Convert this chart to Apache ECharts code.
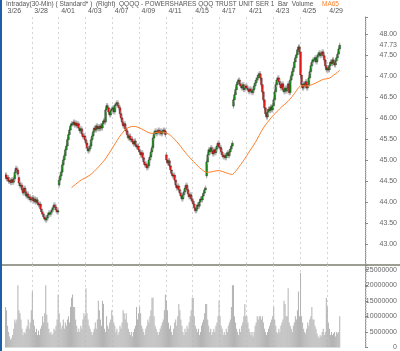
<!DOCTYPE html>
<html>
<head>
<meta charset="utf-8">
<script src="https://cdn.jsdelivr.net/npm/echarts@6/dist/echarts.min.js"></script>
<style>
  html, body { margin: 0; padding: 0; background: #fff; }
  #chart { width: 400px; height: 351px; }
</style>
</head>
<body>
<div id="chart"></div>
<script>
// trading days shown, 13 thirty-minute bars each
const days = ['3/26', '3/27', '3/28', '3/31', '4/01', '4/02', '4/03', '4/04', '4/07', '4/08', '4/09', '4/10', '4/11',
  '4/14', '4/15', '4/16', '4/17', '4/18', '4/21', '4/22', '4/23', '4/24', '4/25', '4/28', '4/29']

// opening price of the first bar of each day
const dayOpens = [44.60, 44.58, 44.08, 43.62, 44.40, 45.86, 45.48, 45.79, 46.21, 45.74, 45.24, 45.29, 45.12,
  44.29, 44.02, 44.62, 45.31, 46.28, 46.76, 47.05, 46.29, 46.64, 47.57, 47.38, 47.14]

// bar closes, one row per day
const closes = [
  44.64, 44.55, 44.58, 44.49, 44.51, 44.46, 44.53, 44.47, 44.55, 44.70, 44.80, 44.76, 44.66,
  44.45, 44.38, 44.40, 44.29, 44.21, 44.33, 44.24, 44.14, 44.19, 44.10, 44.12, 44.05, 44.07,
  44.10, 44.02, 44.07, 44.00, 44.05, 43.98, 43.93, 43.95, 43.83, 43.76, 43.71, 43.64, 43.60,
  43.57, 43.62, 43.69, 43.74, 43.71, 43.76, 43.81, 43.86, 43.93, 43.88, 43.81, 43.76, 43.79,
  44.52, 44.62, 44.71, 44.88, 45.00, 45.10, 45.24, 45.33, 45.48, 45.60, 45.71, 45.81, 45.86,
  45.86, 45.90, 45.83, 45.88, 45.81, 45.86, 45.76, 45.69, 45.74, 45.62, 45.55, 45.57, 45.48,
  45.40, 45.29, 45.21, 45.26, 45.33, 45.48, 45.57, 45.67, 45.76, 45.71, 45.81, 45.74, 45.79,
  45.74, 45.81, 45.76, 45.86, 45.93, 45.90, 46.19, 46.29, 46.24, 46.14, 46.07, 46.17, 46.21,
  46.24, 46.14, 46.29, 46.33, 46.36, 46.29, 46.24, 46.10, 46.00, 45.90, 45.81, 45.86, 45.74,
  45.69, 45.60, 45.52, 45.57, 45.48, 45.50, 45.43, 45.38, 45.45, 45.36, 45.31, 45.33, 45.24,
  45.19, 45.12, 45.17, 45.05, 44.95, 44.88, 44.90, 44.81, 44.86, 45.00, 45.07, 45.19, 45.29,
  45.52, 45.64, 45.69, 45.62, 45.67, 45.71, 45.64, 45.69, 45.62, 45.67, 45.71, 45.69, 45.60,
  45.00, 44.93, 44.98, 44.86, 44.76, 44.67, 44.62, 44.64, 44.52, 44.40, 44.33, 44.38, 44.29,
  44.21, 44.14, 44.07, 44.17, 44.24, 44.33, 44.40, 44.29, 44.19, 44.12, 44.17, 44.07, 44.02,
  43.95, 43.86, 43.79, 43.83, 43.93, 43.90, 44.00, 44.07, 44.05, 44.14, 44.21, 44.29, 44.33,
  44.95, 45.12, 45.24, 45.19, 45.29, 45.21, 45.14, 45.24, 45.17, 45.26, 45.33, 45.40, 45.31,
  45.29, 45.19, 45.12, 45.07, 45.10, 45.05, 45.12, 45.17, 45.10, 45.19, 45.26, 45.33, 45.40,
  46.43, 46.55, 46.67, 46.79, 46.86, 46.90, 46.81, 46.76, 46.71, 46.79, 46.67, 46.71, 46.76,
  46.71, 46.67, 46.62, 46.69, 46.64, 46.60, 46.67, 46.76, 46.83, 46.90, 46.95, 47.02, 47.05,
  46.95, 46.79, 46.62, 46.43, 46.24, 46.10, 46.02, 46.14, 46.21, 46.17, 46.26, 46.19, 46.29,
  46.43, 46.62, 46.79, 46.90, 46.95, 46.86, 46.79, 46.71, 46.81, 46.67, 46.62, 46.71, 46.64,
  46.71, 46.81, 46.60, 46.90, 47.00, 47.10, 47.19, 47.33, 47.43, 47.50, 47.62, 47.69, 47.57,
  47.02, 46.79, 46.71, 46.81, 46.76, 46.86, 46.71, 46.79, 46.95, 47.10, 47.24, 47.33, 47.38,
  47.38, 47.43, 47.33, 47.45, 47.50, 47.55, 47.48, 47.52, 47.57, 47.48, 47.38, 47.24, 47.14,
  47.19, 47.14, 47.24, 47.33, 47.29, 47.38, 47.31, 47.26, 47.36, 47.43, 47.52, 47.64, 47.73
]

// volume per bar, in millions of shares
const volumes = [
  13, 12, 7, 5, 3.5, 2.5, 3, 4, 6, 9, 8, 9, 20,
  12, 11, 9, 6, 4, 5, 4.5, 6, 7, 9, 6, 8, 12,
  18, 9, 7, 5, 6, 4, 5.5, 4, 6, 7, 10, 8, 11,
  20, 10.5, 8, 6, 4.5, 5, 4, 4.5, 6, 5.5, 7, 9, 17,
  11, 8, 6, 7, 9, 6, 8, 7, 9, 10, 8, 13, 16,
  17, 13, 13, 9, 7, 5, 6, 5, 7, 6, 9, 11, 10,
  19, 11, 9, 7, 6, 5, 4, 5, 6, 8, 6, 9, 15,
  12, 9, 7, 15, 14, 6, 5, 10, 7, 6, 8, 9, 12,
  10, 8, 7, 5, 6, 4, 5, 7, 6, 8, 12, 11, 9,
  11, 8, 6, 5, 4, 5, 3.5, 5, 6, 7, 13, 9, 11,
  13, 11, 7, 6, 5, 4, 6, 7, 9, 8, 10, 12, 16,
  16, 10, 7, 6, 5, 4, 5, 6, 7, 8, 9, 12, 17,
  15, 12, 8, 6, 7, 5, 4, 6, 8, 9, 7, 10, 14,
  12, 9, 7, 5, 4, 6, 5, 7, 6, 8, 10, 12, 16,
  16, 10, 7, 6, 5, 6, 4, 5, 7, 8, 9, 11, 14,
  14, 9, 7, 5, 6, 4, 5, 6, 5, 7, 8, 10, 15,
  10, 7, 6, 4, 5, 4, 6, 5, 7, 8, 9, 13, 20,
  20, 10, 8, 6, 5, 4, 6, 5, 7, 8, 10, 14, 10,
  10, 8, 6, 5, 4, 5, 3.5, 5, 7, 8, 10, 9, 10,
  10, 9, 10, 8, 6, 5, 4, 5, 6, 7, 8, 9, 10,
  13, 9, 7, 5, 4.5, 6, 5, 7, 8, 9, 15, 14, 10,
  10, 19, 8, 7, 6, 5, 7, 8, 10, 9, 12, 18, 10,
  24, 10, 8, 6, 5, 4.5, 6, 8, 7, 9, 10, 13, 9,
  9, 7, 6, 4.5, 3.5, 3, 4, 3.5, 5, 6, 4, 5, 16,
  13, 8, 6, 4, 5, 4, 4.5, 5, 3.5, 5, 4.5, 5, 10
]

const priceTicks = [43, 43.5, 44, 44.5, 45, 45.5, 46, 46.5, 47, 47.5, 47.73, 48]
const volumeTicks = [0, 5, 10, 15, 20, 25]

const BARS_PER_DAY = 13
const TOTAL_SLOTS = 349 // leaves blank room after the last bar

const categories = []
for (let i = 0; i < TOTAL_SLOTS; i++) {
  categories.push(i < closes.length ? days[Math.floor(i / BARS_PER_DAY)] : '')
}

const candles = closes.map((c, i) => {
  const open = i % BARS_PER_DAY === 0 ? dayOpens[i / BARS_PER_DAY] : closes[i - 1]
  return [i, open, c]
})

// 65-bar moving average of closes
const ma65 = closes.map((_, i) => {
  if (i < 64) return '-'
  let s = 0
  for (let k = i - 64; k <= i; k++) s += closes[k]
  return +(s / 65).toFixed(3)
})

const isGrid = idx => idx > 0 && idx < closes.length && idx % (BARS_PER_DAY * 2) === 0
const isLabel = idx => idx < closes.length && idx % (BARS_PER_DAY * 2) === 0

function renderCandle(params, api) {
  const i = api.value(0)
  const o = api.value(1)
  const c = api.value(2)
  const x = api.coord([i, o])[0]
  const yo = api.coord([i, o])[1]
  const yc = api.coord([i, c])[1]
  const top = Math.min(yo, yc)
  const bot = Math.max(yo, yc)
  return {
    type: 'group',
    children: [
      { type: 'line', shape: { x1: x, y1: top - 2.5, x2: x, y2: bot + 2.5 }, style: { stroke: '#a8a8a8', lineWidth: 1 } },
      {
        type: 'rect',
        shape: { x: x - 0.9, y: top, width: 1.8, height: Math.max(bot - top, 1) },
        style: { fill: c >= o ? '#1a8f1a' : '#f01818', stroke: '#222', lineWidth: 0.35 }
      }
    ]
  }
}

const chart = echarts.init(document.getElementById('chart'), null, { renderer: 'canvas' })
const FONT = 'Liberation Sans, Arial, sans-serif'
const gridLine = { show: true, interval: (idx) => isGrid(idx), lineStyle: { color: '#d4d4d4', type: [2, 3], width: 1 } }

chart.setOption({
  animation: false,
  backgroundColor: '#fff',
  textStyle: { fontFamily: FONT },
  grid: [
    { left: 5, top: 17, width: 361, height: 248 },
    { left: 5, top: 265, width: 361, height: 85.5 }
  ],
  xAxis: [
    {
      gridIndex: 0, type: 'category', data: categories, position: 'top', boundaryGap: true,
      axisLine: { show: false }, axisTick: { show: false },
      axisLabel: { interval: (idx) => isLabel(idx), align: 'left', padding: [0, 0, 0, 2], margin: 2, fontSize: 7, color: '#555', fontFamily: FONT },
      splitLine: gridLine
    },
    {
      gridIndex: 1, type: 'category', data: categories, boundaryGap: true,
      axisLine: { show: false }, axisTick: { show: false }, axisLabel: { show: false },
      splitLine: gridLine
    }
  ],
  yAxis: [
    {
      gridIndex: 0, type: 'value', position: 'right', min: 42.5, max: 48.4, interval: 0.5,
      axisLine: { show: true, lineStyle: { color: '#8a8a8a', width: 1 } },
      axisTick: { show: true, length: 3, lineStyle: { color: '#8a8a8a' } },
      minorTick: { show: true, splitNumber: 10, length: 1.5, lineStyle: { color: '#b0b0b0' } },
      axisLabel: { customValues: priceTicks, align: 'right', margin: 32, fontSize: 7, color: '#666', fontFamily: FONT, formatter: v => v.toFixed(2) },
      splitLine: { show: false }
    },
    {
      gridIndex: 1, type: 'value', position: 'right', min: 0, max: 26.5, interval: 5,
      axisLine: { show: true, lineStyle: { color: '#8a8a8a', width: 1 } },
      axisTick: { show: true, length: 3, lineStyle: { color: '#8a8a8a' } },
      minorTick: { show: true, splitNumber: 10, length: 1.5, lineStyle: { color: '#b0b0b0' } },
      axisLabel: { customValues: volumeTicks, align: 'right', margin: 32, fontSize: 7, color: '#666', fontFamily: FONT, formatter: v => String(v * 1000000) },
      splitLine: { show: false }
    }
  ],
  series: [
    {
      type: 'bar', xAxisIndex: 1, yAxisIndex: 1, data: volumes,
      barCategoryGap: '0%', itemStyle: { color: '#b4b4b4' }
    },
    {
      type: 'custom', xAxisIndex: 0, yAxisIndex: 0, data: candles,
      renderItem: renderCandle, encode: { x: 0, y: [1, 2] }, clip: true
    },
    {
      type: 'line', xAxisIndex: 0, yAxisIndex: 0, data: ma65,
      showSymbol: false, smooth: false,
      lineStyle: { color: '#ff7f2a', width: 1 }
    }
  ],
  graphic: [
    { type: 'rect', left: 0, top: 0, shape: { width: 2, height: 351 }, style: { fill: '#1e5faa' } },
    { type: 'line', shape: { x1: 2, y1: 265, x2: 400, y2: 265 }, style: { stroke: '#7c7c6c', lineWidth: 1.5 } },
    {
      type: 'text', x: 6, y: 1,
      style: { text: 'Intraday(30-Min) ( Standard* )  (Right)  QQQQ - POWERSHARES QQQ TRUST UNIT SER 1  Bar  Volume', fill: '#555', font: '6.5px ' + FONT }
    },
    { type: 'text', x: 322, y: 1, style: { text: 'MA65', fill: '#ff7f2a', font: '6.5px ' + FONT } }
  ]
})
</script>
</body>
</html>
